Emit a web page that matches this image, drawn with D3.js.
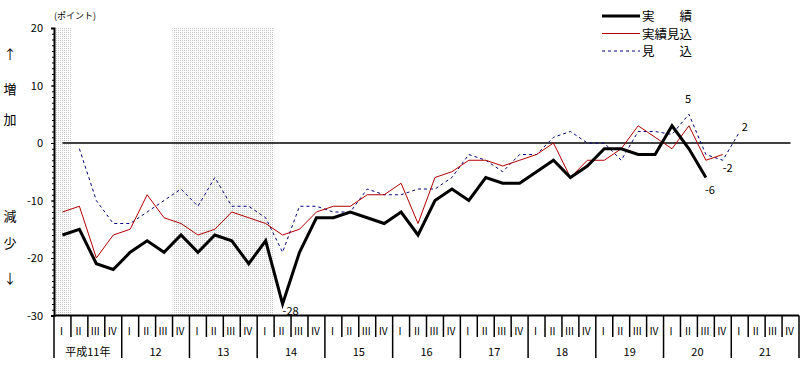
<!DOCTYPE html>
<html>
<head>
<meta charset="utf-8">
<script src="https://cdn.jsdelivr.net/npm/d3@7"></script>
<style>
  body { margin: 0; background: #fff; }
  svg text { font-family: "Noto Sans CJK JP", "DejaVu Sans", sans-serif; }
</style>
</head>
<body>
<div id="chart"></div>
<script>
// quarters and fiscal years (平成)
var years = ["平成11年", "12", "13", "14", "15", "16", "17", "18", "19", "20", "21"];
var quarters = ["Ⅰ", "Ⅱ", "Ⅲ", "Ⅳ"];

// 実績 (actual)
var actual = [-16, -15, -21, -22, -19, -17, -19, -16, -19, -16, -17, -21, -17, -28, -19,
  -13, -13, -12, -13, -14, -12, -16, -10, -8, -10, -6, -7, -7, -5, -3,
  -6, -4, -1, -1, -2, -2, 3, -1, -6];
// 実績見込 (estimated actual)
var estActual = [-12, -11, -20, -16, -15, -9, -13, -14, -16, -15, -12, -13, -14, -16, -15,
  -12, -11, -11, -9, -9, -7, -14, -6, -5, -3, -3, -4, -3, -2, 0,
  -6, -3, -3, -1, 3, 1, -1, 3, -3, -2];
// 見込 (forecast)
var forecast = [null, -1, -10, -14, -14, -12, -10, -8, -11, -6, -11, -11, -13, -19, -11,
  -11, -12, -12, -8, -9, -9, -8, -8, -6, -2, -3, -5, -2, -2, 1,
  2, 0, 0, -3, 2, 2, 1.5, 5, -2, -3, 2];

// shaded quarter ranges (start, end index inclusive)
var shaded = [[0, 0], [7, 12]];

// value labels [index, value, text]
var notes = [[13, -28, "-28"], [37, 5, "5"], [40, 2, "2"], [39, -2, "-2"], [38, -6, "-6"]];

var width = 810, height = 374;
var svg = d3.select("#chart").append("svg")
  .attr("width", width)
  .attr("height", height);

var idx = d3.range(years.length * quarters.length);
var x = d3.scaleBand().domain(idx).range([54, 799]).padding(0);
var y = d3.scaleLinear().domain([-30, 20]).range([315.5, 28]);
var bw = x.bandwidth();
var cx = function (i) { return x(i) + bw / 2; };

// dotted pattern for shaded periods
var pat = svg.append("defs").append("pattern")
  .attr("id", "dots")
  .attr("width", 2).attr("height", 2)
  .attr("patternUnits", "userSpaceOnUse");
pat.append("rect").attr("width", 2).attr("height", 2).attr("fill", "#fff");
pat.append("rect").attr("width", 1).attr("height", 1).attr("fill", "#c4c4c4");

svg.selectAll("rect.shade")
  .data(shaded)
  .enter()
  .append("rect")
  .attr("class", "shade")
  .attr("x", function (d) { return x(d[0]); })
  .attr("width", function (d) { return x(d[1]) + bw - x(d[0]); })
  .attr("y", y(20))
  .attr("height", y(-30) - y(20))
  .attr("fill", "url(#dots)");

// minor ticks on y axis
svg.append("g")
  .attr("transform", "translate(54,0)")
  .call(d3.axisLeft(y).tickValues(d3.range(-30, 21, 1)).tickSize(2).tickFormat(""))
  .call(function (g) { g.select(".domain").remove(); });

// y axis
var yaxis = svg.append("g")
  .attr("transform", "translate(54,0)")
  .call(d3.axisLeft(y).tickValues([20, 10, 0, -10, -20, -30]).tickSize(3).tickPadding(8)
    .tickFormat(function (d) { return d; }));
yaxis.select(".domain").attr("stroke-width", 2);
yaxis.selectAll("text").style("font-size", "11px").attr("fill", "#000");

// bottom axis line
svg.append("line")
  .attr("x1", 54).attr("x2", 799)
  .attr("y1", y(-30)).attr("y2", y(-30))
  .attr("stroke", "#000").attr("stroke-width", 2);

// quarter separators
var seps = idx.concat([idx.length]);
svg.selectAll("line.sep")
  .data(seps)
  .enter()
  .append("line")
  .attr("class", "sep")
  .attr("x1", function (d) { return d < idx.length ? x(d) : x.range()[1]; })
  .attr("x2", function (d) { return d < idx.length ? x(d) : x.range()[1]; })
  .attr("y1", y(-30))
  .attr("y2", function (d) { return d % 4 === 0 ? 358 : 337; })
  .attr("stroke", "#000")
  .attr("stroke-width", 1.5);

// quarter labels
svg.selectAll("text.q")
  .data(idx)
  .enter()
  .append("text")
  .attr("class", "q")
  .attr("x", function (d) { return cx(d) - 1; })
  .attr("y", 335)
  .attr("text-anchor", "middle")
  .style("font-size", "10px")
  .text(function (d) { return quarters[d % 4]; });

// year labels
svg.selectAll("text.yr")
  .data(years)
  .enter()
  .append("text")
  .attr("class", "yr")
  .attr("x", function (d, i) { return x(i * 4) + bw * 2; })
  .attr("y", 356)
  .attr("text-anchor", "middle")
  .style("font-size", "11px")
  .text(function (d) { return d; });

// zero line
svg.append("line")
  .attr("x1", cx(0)).attr("x2", cx(idx.length - 1))
  .attr("y1", y(0)).attr("y2", y(0))
  .attr("stroke", "#000").attr("stroke-width", 1.5);

// series lines
var line = d3.line()
  .defined(function (d) { return d != null; })
  .x(function (d, i) { return cx(i); })
  .y(function (d) { return y(d); });

svg.append("path")
  .datum(forecast)
  .attr("fill", "none")
  .attr("stroke", "#000080")
  .attr("stroke-width", 1)
  .attr("stroke-dasharray", "3,3")
  .attr("d", line);

svg.append("path")
  .datum(estActual)
  .attr("fill", "none")
  .attr("stroke", "#b00000")
  .attr("stroke-width", 1)
  .attr("d", line);

svg.append("path")
  .datum(actual)
  .attr("fill", "none")
  .attr("stroke", "#000")
  .attr("stroke-width", 3)
  .attr("stroke-linejoin", "miter")
  .attr("d", line);

// value labels
svg.selectAll("text.note")
  .data(notes)
  .enter()
  .append("text")
  .attr("class", "note")
  .attr("x", function (d) {
    var off = { "-28": 0, "5": -4, "2": 2, "-2": 0, "-6": -1 };
    return cx(d[0]) + off[d[2]];
  })
  .attr("y", function (d) {
    var off = { "-28": 11, "5": -11, "2": -1, "-2": 17, "-6": 16 };
    return y(d[1]) + off[d[2]];
  })
  .style("font-size", "11px")
  .text(function (d) { return d[2]; });

// unit label
svg.append("text")
  .attr("x", 54).attr("y", 19)
  .style("font-size", "9px")
  .text("(ポイント)");

// side labels
var side = [["↑", 59], ["増", 94], ["加", 124], ["減", 221], ["少", 248], ["↓", 283]];
svg.selectAll("text.side")
  .data(side)
  .enter()
  .append("text")
  .attr("class", "side")
  .attr("x", 10)
  .attr("y", function (d) { return d[1]; })
  .attr("text-anchor", "middle")
  .style("font-size", "13px")
  .text(function (d) { return d[0]; });

// legend
var legend = [
  { name: "実　　績", color: "#000", w: 3, dash: null },
  { name: "実績見込", color: "#b00000", w: 1, dash: null },
  { name: "見　　込", color: "#000080", w: 1, dash: "3,3" }
];
var lg = svg.selectAll("g.legend")
  .data(legend)
  .enter()
  .append("g")
  .attr("class", "legend")
  .attr("transform", function (d, i) { return "translate(602," + (16 + i * 17.5) + ")"; });
lg.append("line")
  .attr("x1", 0).attr("x2", 38)
  .attr("stroke", function (d) { return d.color; })
  .attr("stroke-width", function (d) { return d.w; })
  .attr("stroke-dasharray", function (d) { return d.dash; });
lg.append("text")
  .attr("x", 40)
  .attr("y", 5)
  .style("font-size", "12.5px")
  .text(function (d) { return d.name; });
</script>
</body>
</html>
